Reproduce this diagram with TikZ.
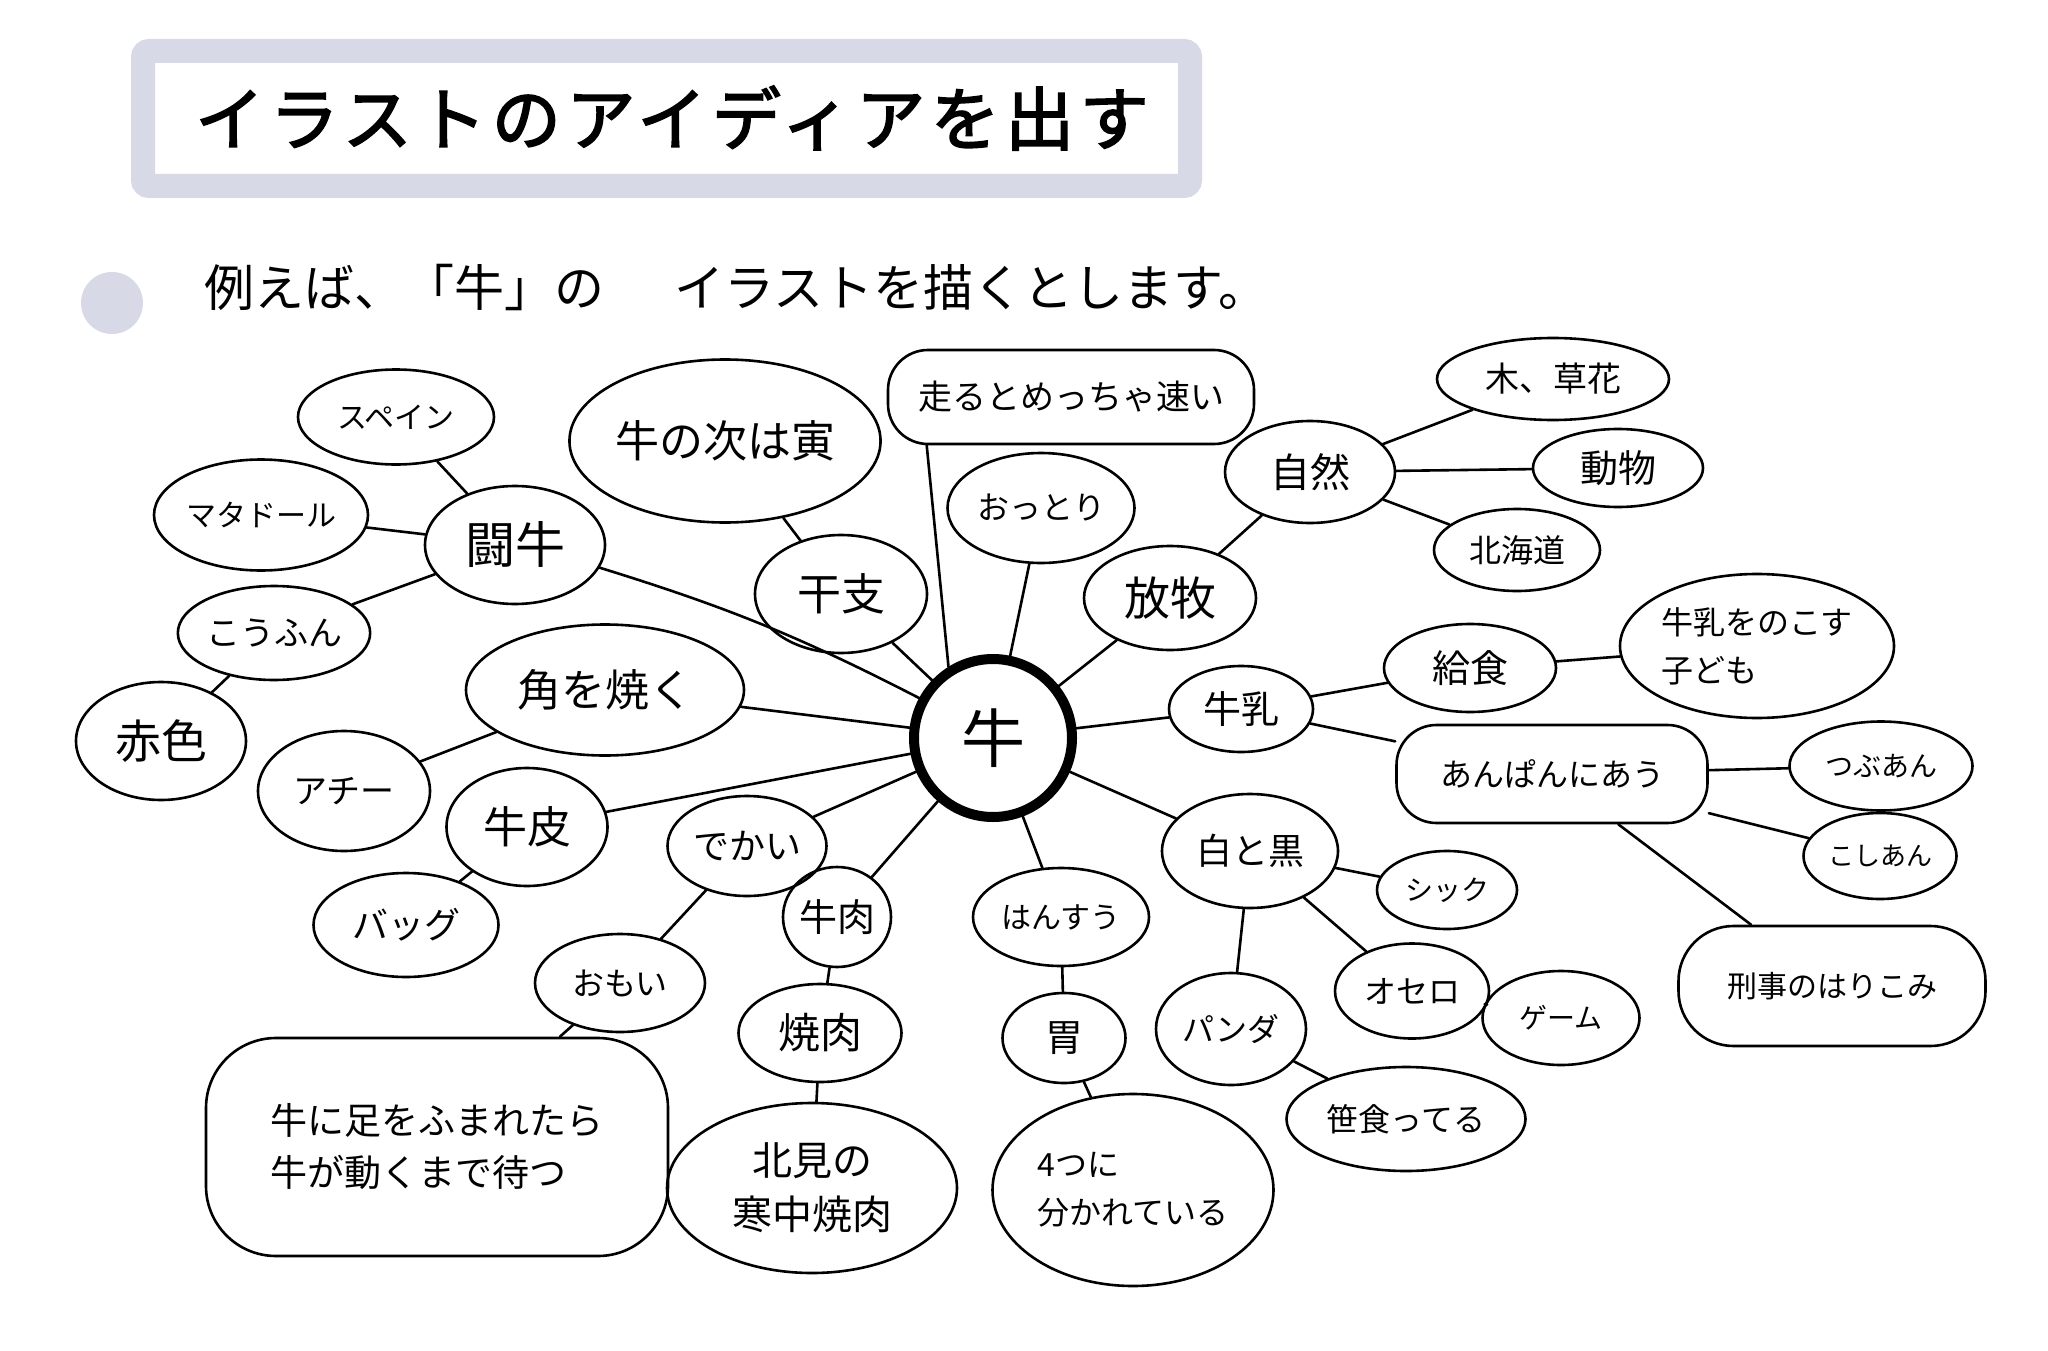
\documentclass[tikz,border=0pt]{standalone}
\usepackage{fontspec}
\setmainfont{Noto Sans CJK JP}
\newfontfamily\titlefont[FakeBold=2.5,LetterSpace=8]{Noto Sans CJK JP}
\usetikzlibrary{shapes.geometric}
\definecolor{lav}{HTML}{D8D9E6}

\begin{document}
\begin{tikzpicture}[x=1pt, y=-1pt, line width=2.6pt, line cap=round,
  bub/.style={draw, ellipse, inner sep=0pt},
  box/.style={draw, rectangle, rounded corners=40pt, inner sep=0pt}]
  \useasboundingbox (0,0) rectangle (2048,1351);
  % title and intro line
  \draw[lav, line width=24pt, rounded corners=6pt] (143,51) rectangle (1190,186);
  \node[font=\titlefont\fontsize{69}{69}\selectfont] (title) at (672,118) {イラストのアイディアを出す};
  \fill[lav] (112,303) circle (31pt);
  \node[anchor=west, font=\fontsize{50}{50}\selectfont] (intro) at (200,287)
    {例えば、「牛」の\hspace{1.4em}イラストを描くとします。};
  % center
  \node[circle, draw, line width=10pt, minimum size=158pt, inner sep=0pt,
    font=\fontsize{64}{64}\selectfont] (ushi) at (993,738) {牛};
  % bubbles
  \foreach \n/\x/\y/\w/\h/\sz/\txt in {
      spain/396/417/196/95/30/スペイン, matador/261/515/214/111/30/マタドール,
      tougyu/515/545/180/118/50/闘牛, koufun/274/633/189/94/34/こうふん,
      akairo/161/741/170/118/46/赤色, tora/725/441/287/163/44/牛の次は寅,
      eto/841/594/172/118/44/干支, ottori/1041/508/187/110/32/おっとり,
      houboku/1170/598/172/104/46/放牧, shizen/1310/472/170/102/40/自然,
      kusabana/1553/379/232/82/34/木、草花, doubutsu/1618/468/170/78/38/動物,
      hokkaido/1517/550/166/82/32/北海道, tsuno/605/690/278/131/44/角を焼く,
      achi/344/791/172/120/34/アチー, gyuhi/527/827/161/118/44/牛皮,
      bag/406/925/185/104/36/バッグ, dekai/747/846/159/100/36/でかい,
      omoi/620/983/170/98/32/おもい, gyuniku/837/917/108/100/38/牛肉,
      yakiniku/820/1033/163/98/42/焼肉, hansuu/1061/917/176/98/30/はんすう,
      ibukuro/1064/1038/123/90/38/胃, gyunyu/1241/709/144/86/38/牛乳,
      kyushoku/1470/668/172/88/38/給食, tsubu/1881/766/183/89/28/つぶあん,
      koshi/1880/856/153/86/26/こしあん, shirokuro/1250/851/176/114/36/白と黒,
      chic/1447/890/140/78/28/シック, othello/1412/991/154/95/32/オセロ,
      game/1561/1018/157/94/28/ゲーム, panda/1231/1029/150/112/32/パンダ,
      sasa/1406/1119/239/104/32/笹食ってる}
    \node[bub, minimum width=\w pt, minimum height=\h pt,
      font=\fontsize{\sz}{\sz}\selectfont] (\n) at (\x,\y) {\txt};
  \node[box, minimum width=366pt, minimum height=94pt,
    font=\fontsize{34}{34}\selectfont] (hashiru) at (1071,397) {走るとめっちゃ速い};
  \node[box, minimum width=311pt, minimum height=98pt,
    font=\fontsize{32}{32}\selectfont] (anpan) at (1552,774) {あんぱんにあう};
  \node[box, rounded corners=55pt, minimum width=307pt, minimum height=120pt,
    font=\fontsize{30}{30}\selectfont] (keiji) at (1832,986) {刑事のはりこみ};
  \node[box, rounded corners=70pt, minimum width=462pt, minimum height=218pt, align=left,
    font=\fontsize{37}{52}\selectfont] (fumare) at (437,1147) {牛に足をふまれたら\\牛が動くまで待つ};
  \node[bub, minimum width=290pt, minimum height=170pt, align=center,
    font=\fontsize{40}{54}\selectfont] (kitami) at (812,1188) {北見の\\寒中焼肉};
  \node[bub, minimum width=281pt, minimum height=192pt, align=left,
    font=\fontsize{32}{48}\selectfont] (yottsu) at (1133,1190) {4つに\\分かれている};
  \node[bub, minimum width=274pt, minimum height=144pt, align=left,
    font=\fontsize{32}{48}\selectfont] (nokosu) at (1757,646) {牛乳をのこす\\子ども};
  % connectors
  \draw (tougyu.-15) to[bend left=5] (ushi);
  \draw ([xshift=40pt]hashiru.south west) -- (ushi.122);
  \foreach \a/\b in {ushi/tsuno, ushi/gyuhi, ushi/dekai, ushi/gyuniku, ushi/hansuu,
      ushi/shirokuro, ushi/gyunyu, ushi/houboku, ushi/ottori, ushi/eto,
      tougyu/spain, tougyu/matador, tougyu/koufun, koufun/akairo, eto/tora,
      tsuno/achi, gyuhi/bag, dekai/omoi, omoi/fumare, gyuniku/yakiniku,
      yakiniku/kitami, hansuu/ibukuro, ibukuro/yottsu, shirokuro/chic,
      shirokuro/othello, shirokuro/panda, othello/game, panda/sasa,
      gyunyu/kyushoku, gyunyu/anpan, kyushoku/nokosu, anpan/tsubu, anpan/koshi,
      anpan/keiji, houboku/shizen, shizen/kusabana, shizen/doubutsu, shizen/hokkaido}
    \draw (\a) -- (\b);
\end{tikzpicture}
\end{document}
